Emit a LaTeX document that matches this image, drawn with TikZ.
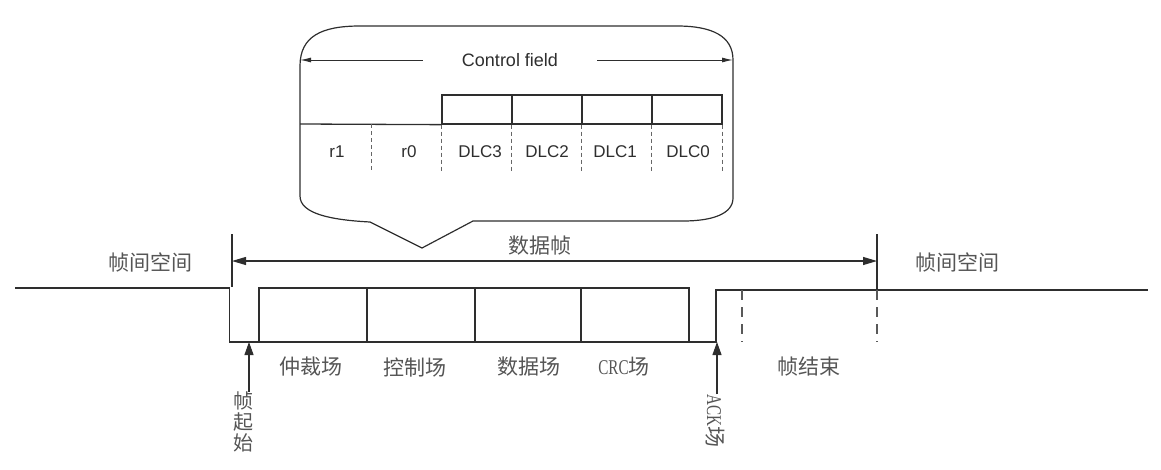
\documentclass[tikz,border=0pt]{standalone}
\usepackage{fontspec}
\setmainfont{Liberation Serif}
\newfontfamily\cjk{Noto Sans CJK SC}
\newfontfamily\arialfont{Liberation Sans}
\newfontfamily\narrowserif[FakeStretch=0.72]{Liberation Serif}
\usetikzlibrary{arrows.meta,calc}
\definecolor{linegray}{HTML}{2E2E2E}
\definecolor{textgray}{HTML}{555555}
\tikzstyle{field}=[rectangle, draw=linegray, line width=1.3pt, inner sep=0pt, anchor=center]
\tikzstyle{annot}=[align=center, text=textgray, inner sep=0pt]
\tikzstyle{cn}=[annot, font=\cjk\fontsize{21}{21}\selectfont]
\tikzstyle{bit}=[annot, text=linegray, font=\arialfont\fontsize{17}{17}\selectfont]
\tikzstyle{sig}=[draw=linegray, line width=1.3pt]
\tikzstyle{dlcdash}=[draw=black!60, line width=0.9pt, dash pattern=on 4pt off 3pt]
\tikzstyle{eofdash}=[draw=black!65, line width=1.1pt, dash pattern=on 10pt off 7pt]
\tikzstyle{span}=[draw=linegray, line width=1.1pt, {Triangle[length=14pt,width=8pt]}-{Triangle[length=14pt,width=8pt]}]
\tikzstyle{cfarrow}=[draw=linegray, line width=1pt, -{Latex[length=11pt,width=5pt]}]
\tikzstyle{uparr}=[draw=linegray, line width=1.1pt, -{Triangle[length=13pt,width=9pt]}]
\newcommand{\lat}[1]{{\narrowserif\fontsize{21}{21}\selectfont #1}}
\newcommand{\drawbubble}[0]
{
  \draw[line width=1.2pt, draw=linegray] (300,66) .. controls (300,36) and (322,26) .. (360,26) -- (677,26)
    .. controls (712,26) and (733,36) .. (733,60) -- (733,198)
    .. controls (733,214) and (712,221) .. (683,221) -- (473,221) -- (422,248) -- (370,222)
    .. controls (332,220) and (300,214) .. (300,196) -- cycle;
}

\begin{document}
\begin{tikzpicture}[x=1pt,y=-1pt]
	\useasboundingbox (0,0) rectangle (1161,469);

	\drawbubble{}

	% control field detail
	\coordinate (cfL) at (300,60);
	\coordinate (cfR) at (733,60);
	\node[bit, fill=white, minimum width=174pt, minimum height=16pt, font=\arialfont\fontsize{18}{18}\selectfont](cf) at (510,60){Control field};
	\draw[cfarrow] (cf) -- (cfL);
	\draw[cfarrow] (cf) -- (cfR);

	\node[field, minimum width=70pt, minimum height=29pt](dlc3) at (477,109.5){};
	\node[field, minimum width=70pt, minimum height=29pt](dlc2) at (547,109.5){};
	\node[field, minimum width=70pt, minimum height=29pt](dlc1) at (617,109.5){};
	\node[field, minimum width=70pt, minimum height=29pt](dlc0) at (687,109.5){};
	\coordinate (cfBase) at (300,124);
	\draw[sig] (cfBase) -- (dlc3.south west);

	\draw[dlcdash] (371,124) -- ++(0,46);
	\draw[dlcdash] (dlc3.south west) -- ++(0,46);
	\draw[dlcdash] (dlc2.south west) -- ++(0,46);
	\draw[dlcdash] (dlc1.south west) -- ++(0,46);
	\draw[dlcdash] (dlc0.south west) -- ++(0,46);
	\draw[dlcdash] (dlc0.south east) -- ++(0,46);

	\node[bit](r1) at (337,152){r1};
	\node[bit](r0) at (409,152){r0};
	\node[bit](d3) at (480,152){DLC3};
	\node[bit](d2) at (547,152){DLC2};
	\node[bit](d1) at (615,152){DLC1};
	\node[bit](d0) at (688,152){DLC0};

	% bus level
	\coordinate (idleL) at (15,288);
	\coordinate (sofTop) at (229.5,288);
	\coordinate (sofBot) at (229.5,342);
	\coordinate (ackBot) at (716,342);
	\coordinate (ackTop) at (716,290);
	\coordinate (idleR) at (1148,290);
	\draw[sig] (idleL) -- (sofTop) -- (sofBot) -- (ackBot) -- (ackTop) -- (idleR);

	\node[field, minimum width=108pt, minimum height=54pt](arb) at (313,315){};
	\node[field, minimum width=108pt, minimum height=54pt](ctl) at (421,315){};
	\node[field, minimum width=106pt, minimum height=54pt](dat) at (528,315){};
	\node[field, minimum width=108pt, minimum height=54pt](crc) at (635,315){};

	% frame limits
	\coordinate (frmL) at (232,261);
	\coordinate (frmR) at (877,261);
	\draw[sig, line width=1.1pt] (232,234) -- (232,287);
	\draw[sig, line width=1.1pt] (877,234) -- (877,290);
	\draw[eofdash] (877,290) -- (877,342);
	\draw[eofdash] (742,290) -- (742,342);
	\draw[span] (frmL) -- (frmR);
	\node[cn](frame) at (540,246){数据帧};
	\node[cn](ifsL) at (150,262){帧间空间};
	\node[cn](ifsR) at (957,262){帧间空间};

	\node[cn](arbl) at (311,367){仲裁场};
	\node[cn](ctll) at (415,367){控制场};
	\node[cn](datl) at (529,367){数据场};
	\node[cn](crcl) at (624,367){\lat{CRC}场};
	\node[cn](eofl) at (809,367){帧结束};

	\coordinate (sofTip) at (249,342);
	\coordinate (ackTip) at (717,342);
	\node[cn, font=\cjk\fontsize{20}{21}\selectfont](sof) at (243,422){帧\\起\\始};
	\node[cn, rotate=-90](ack) at (715,421){\lat{ACK}场};
	\draw[uparr] (sof.north -| sofTip) -- (sofTip);
	\draw[uparr] (ack.west -| ackTip) -- (ackTip);

\end{tikzpicture}
\end{document}
